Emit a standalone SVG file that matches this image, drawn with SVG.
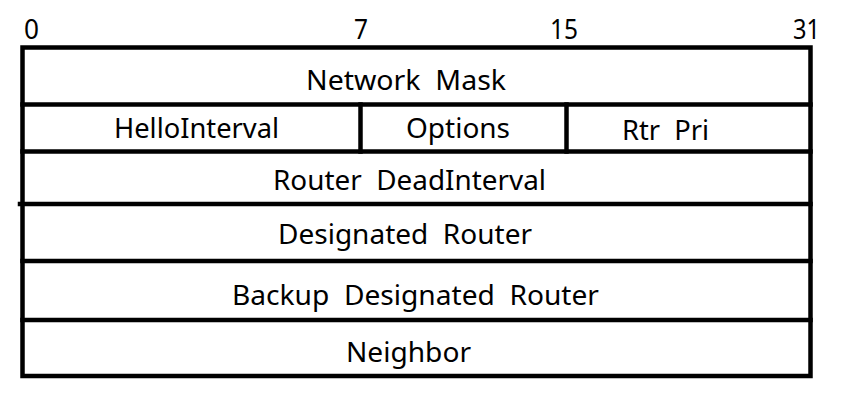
<svg xmlns="http://www.w3.org/2000/svg" width="853" height="414" viewBox="0 0 853 414">
  <style>
    .grid { stroke: #000; stroke-width: 4.5; fill: none; stroke-linecap: square; }
    .lbl { font-family: "Noto Sans", "Open Sans", sans-serif; font-size: 28px; fill: #000; white-space: pre; }
  </style>
  <rect width="853" height="414" fill="#fff"/>

  <!-- bit offsets -->
  <g id="bit-scale">
    <text class="lbl" x="24" y="39" textLength="15" lengthAdjust="spacingAndGlyphs">0</text>
    <text class="lbl" x="354" y="39" textLength="14" lengthAdjust="spacingAndGlyphs">7</text>
    <text class="lbl" x="550" y="39" textLength="28" lengthAdjust="spacingAndGlyphs">15</text>
    <text class="lbl" x="793" y="39" textLength="27" lengthAdjust="spacingAndGlyphs">31</text>
  </g>

  <!-- field borders -->
  <g id="borders">
    <rect class="grid" x="22.5" y="47.5" width="788" height="328.5"/>
    <line class="grid" x1="22.5" y1="104.5" x2="810.5" y2="104.5"/>
    <line class="grid" x1="22.5" y1="151.5" x2="810.5" y2="151.5"/>
    <line class="grid" x1="20" y1="204" x2="810.5" y2="204"/>
    <line class="grid" x1="22.5" y1="261" x2="810.5" y2="261"/>
    <line class="grid" x1="22.5" y1="320" x2="810.5" y2="320"/>
    <line class="grid" x1="360.5" y1="104.5" x2="360.5" y2="151.5"/>
    <line class="grid" x1="566.5" y1="104.5" x2="566.5" y2="151.5"/>
  </g>

  <!-- header fields -->
  <g id="network-mask">
    <text class="lbl" x="306" y="90" textLength="200" lengthAdjust="spacingAndGlyphs">Network  Mask</text>
  </g>
  <g id="hello-interval">
    <text class="lbl" x="114" y="137.5" textLength="165" lengthAdjust="spacingAndGlyphs">HelloInterval</text>
  </g>
  <g id="options">
    <text class="lbl" x="406" y="137.5" textLength="104" lengthAdjust="spacingAndGlyphs">Options</text>
  </g>
  <g id="rtr-pri">
    <text class="lbl" x="622" y="140" textLength="87" lengthAdjust="spacingAndGlyphs">Rtr  Pri</text>
  </g>
  <g id="router-dead-interval">
    <text class="lbl" x="273" y="189.5" textLength="273" lengthAdjust="spacingAndGlyphs">Router  DeadInterval</text>
  </g>
  <g id="designated-router">
    <text class="lbl" x="278" y="243.5" textLength="254" lengthAdjust="spacingAndGlyphs">Designated  Router</text>
  </g>
  <g id="backup-designated-router">
    <text class="lbl" x="232" y="305" textLength="367" lengthAdjust="spacingAndGlyphs">Backup  Designated  Router</text>
  </g>
  <g id="neighbor">
    <text class="lbl" x="346" y="361.5" textLength="125" lengthAdjust="spacingAndGlyphs">Neighbor</text>
  </g>
</svg>
